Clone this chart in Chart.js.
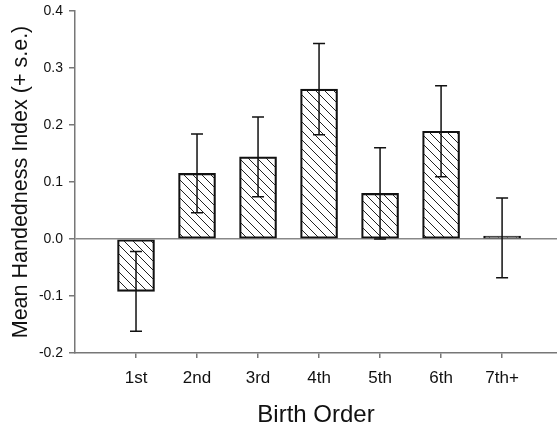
<!DOCTYPE html>
<html>
<head>
<meta charset="utf-8">
<script src="https://cdn.jsdelivr.net/npm/chart.js@4"></script>
<style>
  html, body { margin: 0; padding: 0; background: #fff; }
  #wrap { width: 557px; height: 430px; }
</style>
</head>
<body>
<div id="wrap"><canvas id="chart"></canvas></div>
<script>
const labels = ['1st', '2nd', '3rd', '4th', '5th', '6th', '7th+'];
const positions = [1, 2, 3, 4, 5, 6, 7];
const means = [-0.092, 0.115, 0.144, 0.263, 0.080, 0.189, 0.002];
const errors = [0.070, 0.069, 0.070, 0.080, 0.080, 0.080, 0.070];
const yTicks = [-0.2, -0.1, 0.0, 0.1, 0.2, 0.3, 0.4];

function makeHatch() {
    const c = document.createElement('canvas');
    c.width = 9;
    c.height = 9;
    const g = c.getContext('2d');
    g.strokeStyle = '#222';
    g.lineWidth = 1;
    g.beginPath();
    g.moveTo(-1, -1); g.lineTo(10, 10);
    g.moveTo(-1, 8); g.lineTo(1, 10);
    g.moveTo(8, -1); g.lineTo(10, 1);
    g.stroke();
    return g.createPattern(c, 'repeat');
}

// error bars drawn through the scales, on top of the bars
const errorBars = {
    id: 'errorBars',
    afterDatasetsDraw(chart) {
        const ctx = chart.ctx;
        const xs = chart.scales.x;
        const ys = chart.scales.y;
        ctx.save();
        ctx.strokeStyle = '#111';
        ctx.lineWidth = 1.5;
        positions.forEach((p, i) => {
            const x = xs.getPixelForValue(p);
            const top = ys.getPixelForValue(means[i] + errors[i]);
            const bot = ys.getPixelForValue(means[i] - errors[i]);
            ctx.beginPath();
            ctx.moveTo(x, top); ctx.lineTo(x, bot);
            ctx.moveTo(x - 6, top); ctx.lineTo(x + 6, top);
            ctx.moveTo(x - 6, bot); ctx.lineTo(x + 6, bot);
            ctx.stroke();
        });
        ctx.restore();
    }
};

const ctx = document.getElementById('chart').getContext('2d');
const chart = new Chart(ctx, {
    type: 'bar',
    data: {
        datasets: [{
            data: positions.map((p, i) => ({ x: p, y: means[i] })),
            backgroundColor: makeHatch(),
            borderColor: '#111',
            borderWidth: 1.5,
            borderSkipped: false,
            barThickness: 37,
            minBarLength: 3
        }]
    },
    options: {
        responsive: true,
        maintainAspectRatio: false,
        animation: false,
        layout: { padding: { top: 11, right: 0, left: 0, bottom: 0 } },
        plugins: {
            legend: { display: false },
            tooltip: { enabled: false }
        },
        scales: {
            x: {
                type: 'linear',
                min: 0,
                max: 7.9,
                offset: false,
                afterBuildTicks: scale => {
                    scale.ticks = positions.map(v => ({ value: v }));
                },
                afterFit: scale => { scale.height = 77; },
                grid: {
                    offset: false,
                    drawOnChartArea: false,
                    drawTicks: true,
                    tickLength: 5,
                    color: '#777',
                    lineWidth: 1.5
                },
                border: { display: true, color: '#777', width: 1.5 },
                ticks: {
                    color: '#111',
                    font: { family: 'Liberation Sans, Arial', size: 17 },
                    padding: 10,
                    maxRotation: 0,
                    callback: v => labels[positions.indexOf(v)] || ''
                },
                title: {
                    display: true,
                    text: 'Birth Order',
                    color: '#111',
                    font: { family: 'Liberation Sans, Arial', size: 24 },
                    padding: { top: 5, bottom: 0 }
                }
            },
            y: {
                min: -0.2,
                max: 0.4,
                afterBuildTicks: scale => {
                    scale.ticks = yTicks.map(v => ({ value: v }));
                },
                afterFit: scale => {
                    scale.width = 75;
                    scale.paddingTop = 0;
                    scale.paddingBottom = 0;
                },
                grid: {
                    drawTicks: true,
                    tickLength: 6,
                    tickColor: '#777',
                    lineWidth: 1.5,
                    color: c => (c.tick && Math.abs(c.tick.value) < 1e-9) ? '#888' : 'rgba(0,0,0,0)'
                },
                border: { display: true, color: '#777', width: 1.5 },
                ticks: {
                    color: '#111',
                    font: { family: 'Liberation Sans, Arial', size: 14 },
                    padding: 6,
                    callback: v => v.toFixed(1)
                },
                title: {
                    display: true,
                    text: 'Mean Handedness Index (+ s.e.)',
                    color: '#111',
                    font: { family: 'Liberation Sans, Arial', size: 21.5 },
                    padding: { top: 8, bottom: 0 }
                }
            }
        }
    },
    plugins: [errorBars]
});
</script>
</body>
</html>
